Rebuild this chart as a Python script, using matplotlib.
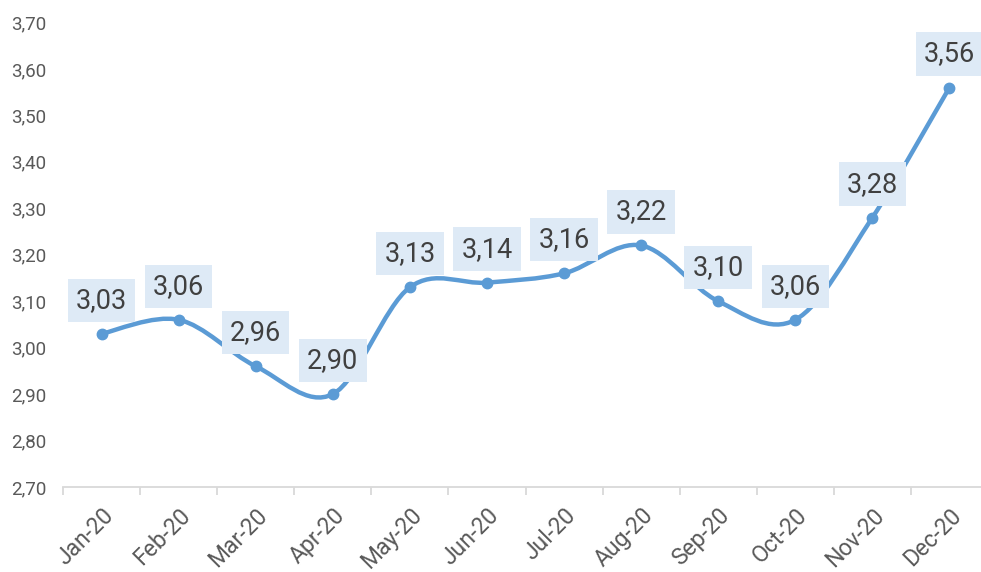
import numpy as np
import matplotlib
matplotlib.use("Agg")
import matplotlib.pyplot as plt
from matplotlib.path import Path
from matplotlib.patches import PathPatch

months = ["Jan-20", "Feb-20", "Mar-20", "Apr-20", "May-20", "Jun-20",
          "Jul-20", "Aug-20", "Sep-20", "Oct-20", "Nov-20", "Dec-20"]
values = [3.03, 3.06, 2.96, 2.90, 3.13, 3.14, 3.16, 3.22, 3.10, 3.06, 3.28, 3.56]
yticks = [2.70, 2.80, 2.90, 3.00, 3.10, 3.20, 3.30, 3.40, 3.50, 3.60, 3.70]

plt.rcParams['font.family'] = ['Roboto', 'DejaVu Sans']

W, H = 981, 572
fig = plt.figure(figsize=(W / 100, H / 100), dpi=100)
left, right = 63 / W, 988 / W
bottom, top = 1 - 487 / H, 1 - 22.5 / H
ax = fig.add_axes([left, bottom, right - left, top - bottom])

n = len(months)
x = np.arange(n)
ax.set_xlim(-0.5, n - 0.5)
ax.set_ylim(yticks[0], yticks[-1])

line_color = "#5B9BD5"

# Smoothed line (Excel-like Bezier through points), computed in display space
fig.canvas.draw()
pts = ax.transData.transform(np.column_stack([x, values]))
verts = [pts[0]]
codes = [Path.MOVETO]
for i in range(n - 1):
    p0 = pts[i - 1] if i > 0 else pts[i]
    p1 = pts[i]
    p2 = pts[i + 1]
    p3 = pts[i + 2] if i + 2 < n else pts[i + 1]
    c1 = p1 + (p2 - p0) / 6.0
    c2 = p2 - (p3 - p1) / 6.0
    verts += [c1, c2, p2]
    codes += [Path.CURVE4] * 3
verts = ax.transData.inverted().transform(np.array(verts))
path = Path(verts, codes)
ax.add_patch(PathPatch(path, facecolor="none", edgecolor=line_color, lw=3.2,
                       capstyle="round", joinstyle="round", zorder=3))
ax.plot(x, values, linestyle="none", marker="o", markersize=7.5,
        color=line_color, zorder=4)

for xi, v in zip(x, values):
    ax.annotate(f"{v:.2f}".replace(".", ","), (xi, v),
                xytext=(0, 33.5), textcoords="offset pixels",
                ha="center", va="center", fontsize=19.5, color="#404040",
                bbox=dict(boxstyle="square,pad=0.3", fc="#DEEAF6", ec="none"),
                zorder=5)

ax.set_yticks(yticks)
ax.set_yticklabels([f"{t:.2f}".replace(".", ",") for t in yticks],
                   fontsize=13.5, color="#595959")
ax.tick_params(axis="y", length=0, pad=12)

ax.set_xticks(np.arange(-0.5, n, 1.0), minor=False)
ax.set_xticklabels([])
ax.set_xticks(x, minor=True)
ax.set_xticklabels(months, minor=True, rotation=45, ha="right",
                   rotation_mode="anchor", fontsize=16.5, color="#595959")
ax.tick_params(axis="x", which="major", length=6, color="#D9D9D9", width=1.3)
ax.tick_params(axis="x", which="minor", length=0, pad=12)

for s in ["left", "right", "top"]:
    ax.spines[s].set_visible(False)
ax.spines["bottom"].set_color("#D9D9D9")
ax.spines["bottom"].set_linewidth(1.3)

fig.savefig("out.png", dpi=100)
